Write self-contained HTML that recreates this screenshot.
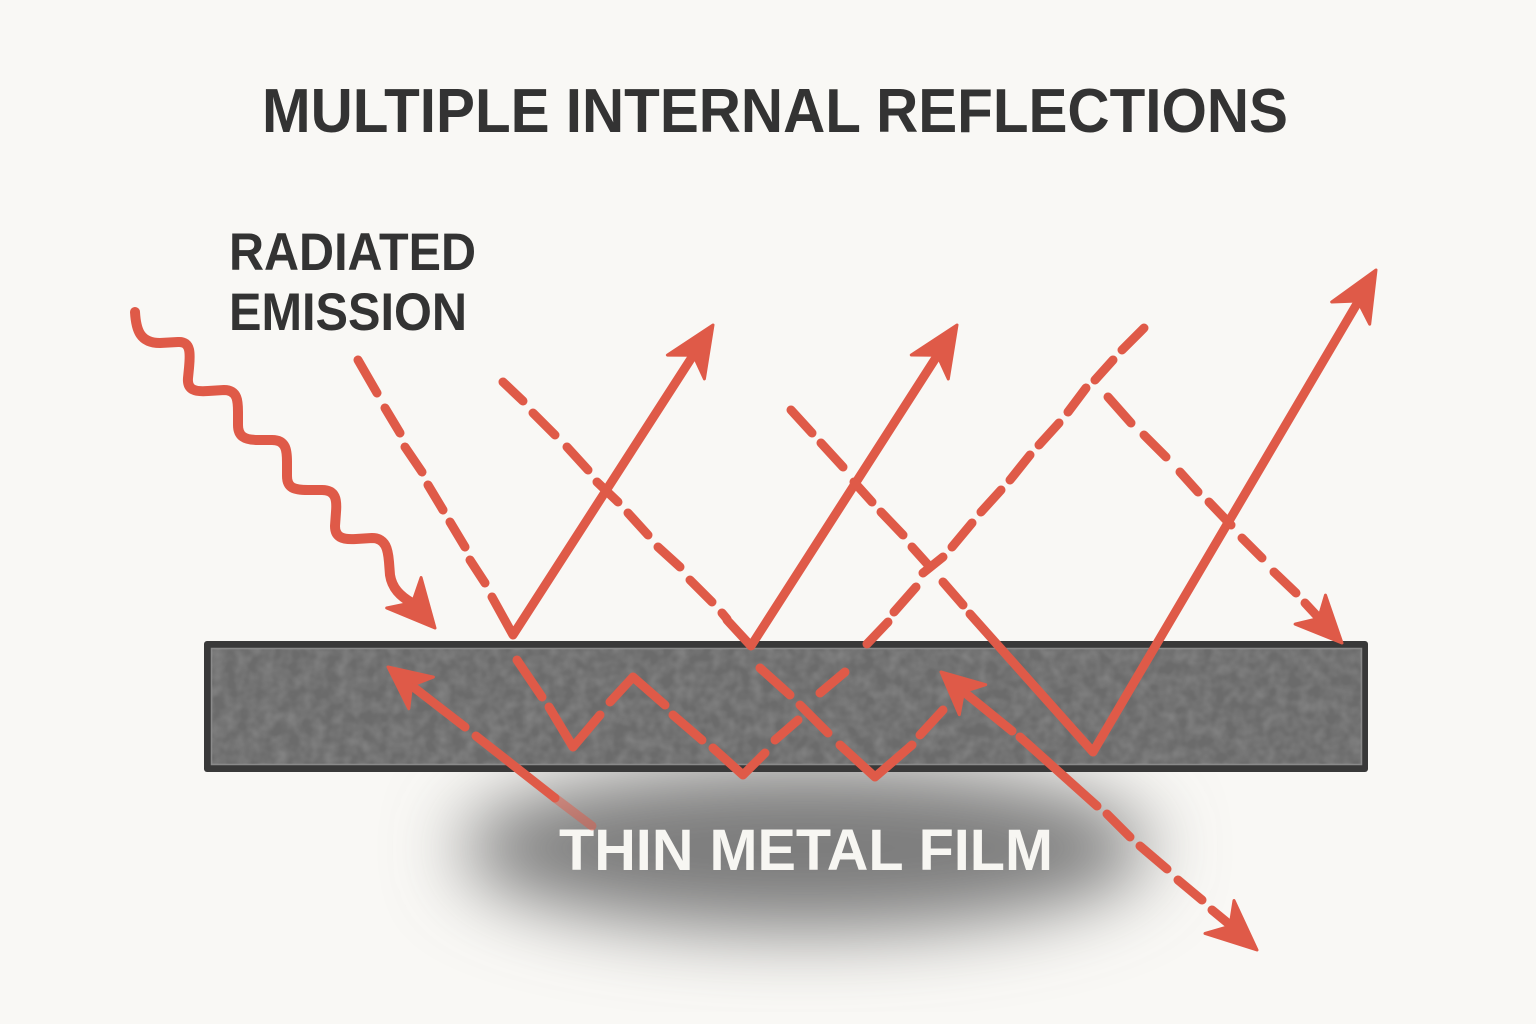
<!DOCTYPE html>
<html>
<head>
<meta charset="utf-8">
<style>
html,body{margin:0;padding:0;background:#f9f8f5;}
svg{display:block;}
</style>
</head>
<body>
<svg width="1536" height="1024" viewBox="0 0 1536 1024" xmlns="http://www.w3.org/2000/svg">
<defs>
<filter id="blur" x="-50%" y="-50%" width="200%" height="200%">
<feGaussianBlur stdDeviation="38"/>
</filter>
<filter id="noise" x="0" y="0" width="100%" height="100%">
<feTurbulence type="fractalNoise" baseFrequency="0.08" numOctaves="2" seed="4"/>
<feColorMatrix type="matrix" values="0 0 0 0 0.6  0 0 0 0 0.6  0 0 0 0 0.6  0 0 0 0.4 -0.12"/>
<feComposite in2="SourceGraphic" operator="in"/>
</filter>
</defs>

<rect x="0" y="0" width="1536" height="1024" fill="#f9f8f5"/>

<!-- shadow -->
<ellipse cx="805" cy="848" rx="345" ry="82" fill="#7c7c7c" filter="url(#blur)"/>

<!-- film -->
<rect x="204" y="641" width="1164" height="131" rx="3" fill="#393939"/>
<rect x="211.5" y="648.5" width="1150" height="116" fill="#6b6b6b" stroke="#8a8a8a" stroke-width="1.5"/>
<rect x="212" y="649" width="1149" height="115" fill="#6b6b6b" filter="url(#noise)"/>

<!-- Text -->
<g font-family="'Liberation Sans', 'DejaVu Sans', sans-serif" font-weight="bold">
<text x="262" y="132" font-size="62" fill="#333333" textLength="1026" lengthAdjust="spacingAndGlyphs">MULTIPLE INTERNAL REFLECTIONS</text>
<text x="229" y="270" font-size="53" fill="#333333" textLength="247" lengthAdjust="spacingAndGlyphs">RADIATED</text>
<text x="229" y="330" font-size="53" fill="#333333" textLength="238" lengthAdjust="spacingAndGlyphs">EMISSION</text>
<text x="559" y="870" font-size="58" fill="#f7f6f2" textLength="494" lengthAdjust="spacingAndGlyphs">THIN METAL FILM</text>
</g>

<g stroke="#df5a48" stroke-width="9" stroke-linecap="round" stroke-linejoin="round" fill="none">
<!-- wavy radiated emission -->
<path stroke-width="10" d="M135,312 C136,330 140,343 160,343 L178,342 C192,341 190,356 189,368 L188,378 C187,390 195,392 208,391 L224,390 C238,390 238,402 238,412 L238,425 C238,436 244,440 258,440 L272,440 C286,440 287,450 287,462 L287,476 C287,488 294,490 308,490 L322,490 C336,490 337,500 336,512 L335,526 C335,537 342,540 356,539 L372,538 C386,538 388,550 389,562 L390,575 C392,588 400,596 412,603"/>

<!-- ray 1 incoming dashed -->
<path d="M358,360 L377,393 M385,408 L400,433 M405,447 L422,472 M428,485 L443,510 M450,522 L465,547 M470,560 L485,583"/>
<path d="M492,597 L513,635 L694,354"/>

<!-- ray 2 incoming dashed -->
<path d="M503,382 L523,401 M533,413 L555,435 M567,447 L588,470 M597,482 L618,502 M628,513 L648,535 M658,547 L680,567 M690,580 L712,602 M722,613 L727,619"/>
<path d="M727,620 L751,646 L937,356"/>

<!-- ray 3 dashed down-right then solid V -->
<path d="M791,410 L812,433 M821,443 L843,467 M854,482 L872,502 M881,512 L903,535 M912,547 L930,567 M943,582 L963,605"/>
<path d="M970,614 L1093,752 L1358,302"/>

<!-- D4 dashed up-right -->
<path d="M867,644 L888,622 M894,612 L916,587 M923,573 L943,557 M952,547 L972,523 M981,512 L1001,490 M1010,480 L1030,455 M1039,445 L1059,423 M1068,412 L1086,388 M1095,380 L1113,360 M1122,350 L1144,328"/>

<!-- D5 dashed down-right to arrow -->
<path d="M1108,397 L1131,423 M1144,435 L1166,457 M1180,472 L1198,492 M1209,502 L1231,525 M1242,538 L1262,558 M1274,572 L1296,593 M1305,603 L1318,617"/>

<!-- inside film zigzags -->
<path d="M517,660 L542,697"/>
<path d="M549,707 L573,747 L600,715"/>
<path d="M610,702 L633,677 L665,705"/>
<path d="M673,715 L702,740"/>
<path d="M713,748 L743,775 L765,753"/>
<path d="M775,740 L798,720"/>
<path d="M820,693 L845,672"/>
<path d="M760,668 L790,695"/>
<path d="M800,705 L828,733"/>
<path d="M840,745 L875,777 L912,745"/>
<path d="M920,735 L943,710"/>

<!-- D6 -->
<path d="M964,692 L1012,731 M1020,737 L1097,806 M1107,814 L1130,837 M1140,846 L1167,869 M1178,880 L1202,900 M1212,910 L1229,924"/>

<!-- D7 -->
<path d="M412,686 L465,727 M476,736 L555,798"/>
<path d="M555,798 L592,826" stroke-opacity="0.5"/>
</g>

<!-- arrowheads -->
<g fill="#df5a48" stroke="#df5a48" stroke-width="3" stroke-linejoin="round">
<polygon points="435,628 386.7,608 412.5,602.6 421.1,577.6"/>
<polygon points="713,325 667.4,355.1 693.5,355.2 704.4,378.9"/>
<polygon points="957,325 911.3,355 937.4,355.2 948.3,379"/>
<polygon points="1376,270 1331.7,302 1357.8,301 1369.7,324.2"/>
<polygon points="1342,643 1295.1,624.1 1318.6,618.4 1325.5,595.1"/>
<polygon points="1257,950 1205,933.5 1230,926.2 1234,900.5"/>
<polygon points="941,672 985.7,684.7 963.5,691.8 959.3,714.7"/>
<polygon points="388,667 433.4,677.1 411.6,685.5 408.8,708.7"/>
</g>
</svg>
</body>
</html>
